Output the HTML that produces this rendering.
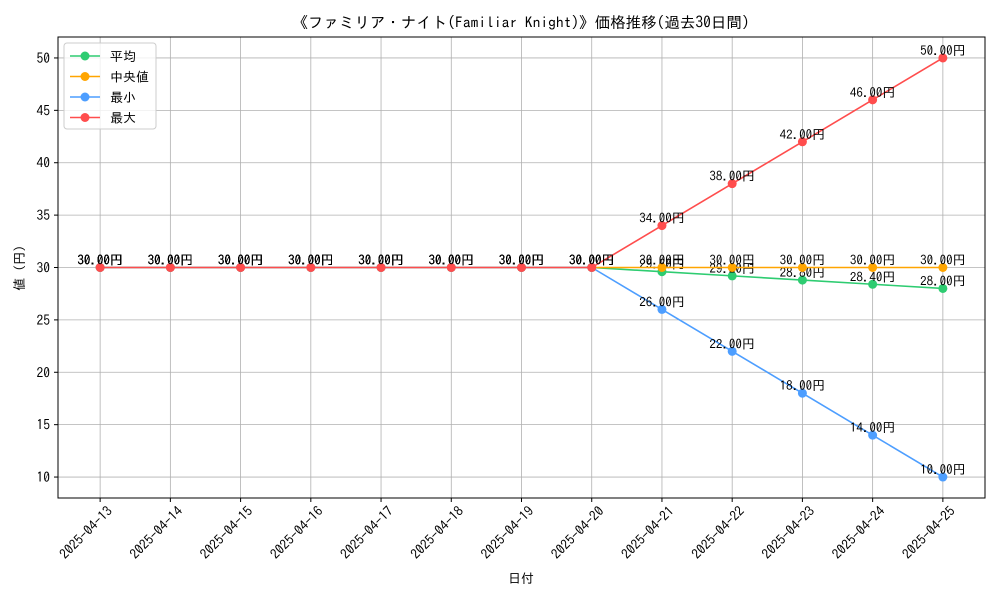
<!DOCTYPE html>
<html><head><meta charset="utf-8"><style>
body{margin:0;background:#fff}
svg{display:block;font-family:"IPAGothic","Liberation Mono","Noto Sans CJK JP",monospace}
</style></head><body>
<svg id="c" width="1000" height="600" xmlns="http://www.w3.org/2000/svg"></svg>
<script>
const dates=["2025-04-13","2025-04-14","2025-04-15","2025-04-16","2025-04-17","2025-04-18","2025-04-19","2025-04-20","2025-04-21","2025-04-22","2025-04-23","2025-04-24","2025-04-25"];
const avgVals=[30,30,30,30,30,30,30,30,29.6,29.2,28.8,28.4,28.0];
const medVals=[30,30,30,30,30,30,30,30,30,30,30,30,30];
const minVals=[30,30,30,30,30,30,30,30,26,22,18,14,10];
const maxVals=[30,30,30,30,30,30,30,30,34,38,42,46,50];
const yTicks=[10,15,20,25,30,35,40,45,50];
const seriesNames=["平均","中央値","最小","最大"];
const seriesColors=["#2ecc71","#ffa500","#4d9eff","#ff4d4d"];

const svg=document.getElementById('c');
const NS="http://www.w3.org/2000/svg";
const L=58,R=985,T=37,B=498,yMin=8,yMax=52;
const xs=i=>L+(i+0.6)/(dates.length-1+1.2)*(R-L);
const ys=v=>B-(v-yMin)/(yMax-yMin)*(B-T);
function mk(tag,attrs,parent){const e=document.createElementNS(NS,tag);for(const k in attrs)e.setAttribute(k,attrs[k]);(parent||svg).appendChild(e);return e;}

const grid=mk('g',{});


dates.forEach((d,i)=>{mk('line',{x1:xs(i),x2:xs(i),y1:T,y2:B,stroke:'#b0b0b0','stroke-width':0.8},grid);});
yTicks.forEach(v=>{mk('line',{x1:L,x2:R,y1:ys(v),y2:ys(v),stroke:'#b0b0b0','stroke-width':0.8},grid);});

const box=mk('rect',{x:L,y:T,width:R-L,height:B-T,fill:'none',stroke:'#000','stroke-width':1});



const xa=mk('g',{});


dates.forEach((d,i)=>{
  const x=xs(i);
  mk('line',{x1:x,x2:x,y1:B,y2:B+4,stroke:'#000'},xa);
  const ax=x+13,ay=B+14;
  const t=mk('text',{x:ax,y:ay,'font-size':13.5,'text-anchor':'end',transform:`rotate(-45 ${ax} ${ay})`},xa);
  t.textContent=d;
  
  
});
const ya=mk('g',{});


yTicks.forEach(v=>{
  const y=ys(v);
  mk('line',{x1:L-4,x2:L,y1:y,y2:y,stroke:'#000'},ya);
  const t=mk('text',{x:L-8,y:y+5,'font-size':13.5,'text-anchor':'end'},ya);
  t.textContent=v;
  
  
});

const all=[avgVals,medVals,minVals,maxVals];
all.forEach((vals,si)=>{
  const g=mk('g',{});
  
  
  mk('polyline',{points:vals.map((v,i)=>xs(i)+','+ys(v)).join(' '),fill:'none',stroke:seriesColors[si],'stroke-width':1.6},g);
  vals.forEach((v,i)=>{
    const c=mk('circle',{cx:xs(i),cy:ys(v),r:4.5,fill:seriesColors[si]},g);
    
    
  });
  vals.forEach((v,i)=>{
    const t=mk('text',{x:xs(i),y:ys(v)-3,'font-size':13,'text-anchor':'middle'},g);
    t.textContent=v.toFixed(2)+'円';
    
    
  });
});

let t=mk('text',{x:521,y:28,'font-size':15.5,'text-anchor':'middle'});
t.textContent='《ファミリア・ナイト(Familiar Knight)》価格推移(過去30日間)';


t=mk('text',{x:521,y:583,'font-size':13,'text-anchor':'middle'});
t.textContent='日付';


t=mk('text',{x:24,y:268,'font-size':13,'text-anchor':'middle',transform:'rotate(-90 24 268)'});
t.textContent='値 (円)';



const lg=mk('g',{});


mk('rect',{x:64,y:43,width:92,height:86,rx:3,fill:'#fff','fill-opacity':0.8,stroke:'#ccc'},lg);
seriesNames.forEach((n,i)=>{
  const y=56+i*20.5;
  const e=mk('g',{},lg);
  
  
  mk('line',{x1:70,x2:100,y1:y,y2:y,stroke:seriesColors[i],'stroke-width':1.6},e);
  mk('circle',{cx:85,cy:y,r:4.5,fill:seriesColors[i]},e);
  const tt=mk('text',{x:110,y:y+5,'font-size':13},e);
  tt.textContent=n;
});
</script>
</body></html>
